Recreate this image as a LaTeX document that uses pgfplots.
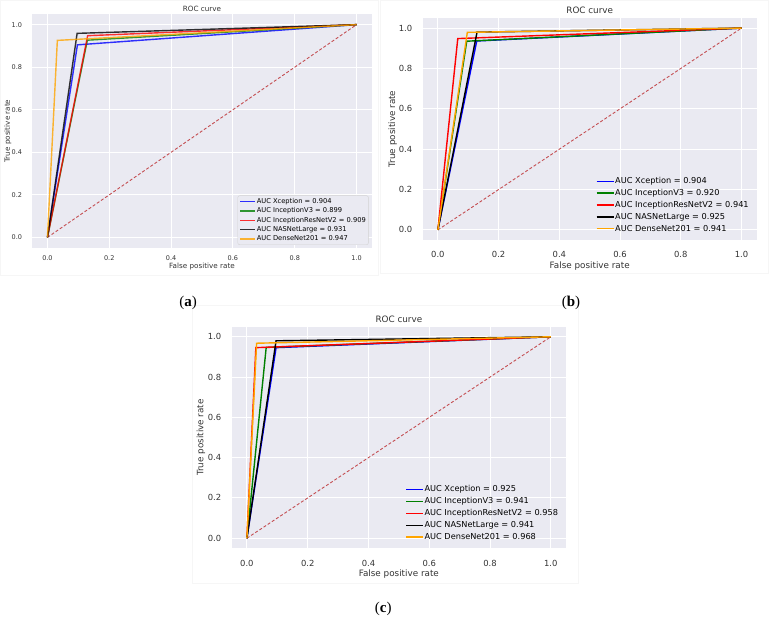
\documentclass[border=0pt]{standalone}
\usepackage{fontspec}
\setmainfont{DejaVu Sans}
\newfontfamily\capfont{Liberation Serif}
\usepackage{pgfplots}
\pgfplotsset{compat=1.18}
\definecolor{sbg}{HTML}{EAEAF2}
\definecolor{txt}{HTML}{333333}
\definecolor{diag}{HTML}{C44E52}
\definecolor{sgreen}{HTML}{008000}
\definecolor{sorange}{HTML}{FFA500}
\pgfplotsset{
 roc/.style={
  scale only axis,
  xmin=-0.05,xmax=1.05,ymin=-0.05,ymax=1.05,
  axis background/.style={fill=sbg},
  axis line style={draw=none},
  xtick={0,0.2,0.4,0.6,0.8,1},
  ytick={0,0.2,0.4,0.6,0.8,1},
  xticklabels={0.0,0.2,0.4,0.6,0.8,1.0},
  yticklabels={0.0,0.2,0.4,0.6,0.8,1.0},
  major tick length=0pt,
  grid=major,
  major grid style={white,line width=0.9pt},
  tick label style={text=txt},
  title style={text=txt,anchor=center,yshift=-6pt},
  legend cell align=left,
 },
 diagline/.style={diag,line width=0.9pt,dash pattern=on 3pt off 2pt},
 rl/.style={draw=#1,line width=1.4pt},
}
\begin{document}
\begin{tikzpicture}
\path[use as bounding box] (0,0) rectangle (769pt,625pt);
% faint panel frames
\draw[gray!7,line width=0.6pt] (0.5pt,350pt) rectangle (378.5pt,624.5pt);
\draw[gray!7,line width=0.6pt] (380.5pt,352pt) rectangle (768.5pt,624.5pt);
\draw[gray!7,line width=0.6pt] (192pt,42pt) rectangle (578pt,320pt);
% ---------------- (a)
\begin{axis}[roc,
  at={(32pt,377pt)},anchor=south west,
  width=340pt,height=234pt,
  tick label style={font=\fontsize{6.5}{7.5}\selectfont},
  xticklabel style={yshift=-4.5pt},
  yticklabel style={xshift=-6.5pt},
  title={ROC curve},
  title style={at={(axis description cs:0.5,1.0214)},font=\fontsize{7.2}{8.5}\selectfont},
  xlabel={False positive rate},
  xlabel style={at={(axis description cs:0.5,-0.0812)},anchor=center,font=\fontsize{7.2}{8.5}\selectfont,text=txt},
  ylabel={True positive rate},
  ylabel style={at={(axis description cs:-0.0706,0.5)},anchor=center,font=\fontsize{7.2}{8.5}\selectfont,text=txt},
  legend style={at={(0.99,0.013)},anchor=south east,draw=gray!35,fill=sbg,rounded corners=2pt,
    font=\fontsize{6.7}{7.5}\selectfont,row sep=1.6pt,inner sep=2pt,
    nodes={inner sep=0.6pt}},
  legend image code/.code={\draw[#1] (0pt,0pt) -- (15pt,0pt);},
]
\addplot[diagline,forget plot] coordinates {(0,0) (1,1)};
\addplot[rl=blue,draw opacity=0.8] coordinates {(0,0) (0.097,0.905) (1,1)};
\addplot[rl=sgreen,draw opacity=0.8] coordinates {(0,0) (0.129,0.927) (1,1)};
\addplot[rl=red,draw opacity=0.8] coordinates {(0,0) (0.130,0.948) (1,1)};
\addplot[rl=black,draw opacity=0.8] coordinates {(0,0) (0.096,0.959) (1,1)};
\addplot[rl=sorange,draw opacity=0.8] coordinates {(0,0) (0.032,0.926) (1,1)};
\legend{AUC Xception = 0.904,AUC InceptionV3 = 0.899,AUC InceptionResNetV2 = 0.909,AUC NASNetLarge = 0.931,AUC DenseNet201 = 0.947}
\end{axis}
% ---------------- (b)
\begin{axis}[roc,
  at={(422.7pt,385pt)},anchor=south west,
  width=334pt,height=222pt,
  tick label style={font=\fontsize{8.4}{9.5}\selectfont},
  xticklabel style={yshift=-8pt},
  yticklabel style={xshift=-7pt},
  title={ROC curve},
  title style={at={(axis description cs:0.5,1.0329)},font=\fontsize{8.8}{10}\selectfont},
  xlabel={False positive rate},
  xlabel style={at={(axis description cs:0.5,-0.1158)},anchor=center,font=\fontsize{8.8}{10}\selectfont,text=txt},
  ylabel={True positive rate},
  ylabel style={at={(axis description cs:-0.0898,0.5)},anchor=center,font=\fontsize{8.8}{10}\selectfont,text=txt},
  legend style={at={(0.985,0.02)},anchor=south east,draw=none,fill=none,
    font=\fontsize{8.2}{9.5}\selectfont,row sep=2.6pt,inner sep=2pt,
    nodes={inner sep=0.8pt}},
  legend image code/.code={\draw[#1] (0pt,0pt) -- (17pt,0pt);},
]
\addplot[diagline,forget plot] coordinates {(0,0) (1,1)};
\addplot[rl=blue] coordinates {(0,0) (0.128,0.936) (1,1)};
\addplot[rl=sgreen] coordinates {(0,0) (0.095,0.935) (1,1)};
\addplot[rl=red] coordinates {(0,0) (0.0655,0.948) (1,1)};
\addplot[rl=black] coordinates {(0,0) (0.129,0.980) (1,1)};
\addplot[rl=sorange] coordinates {(0,0) (0.097,0.979) (1,1)};
\legend{AUC Xception = 0.904,AUC InceptionV3 = 0.920,AUC InceptionResNetV2 = 0.941,AUC NASNetLarge = 0.925,AUC DenseNet201 = 0.941}
\end{axis}
% ---------------- (c)
\begin{axis}[roc,
  at={(231.7pt,76.7pt)},anchor=south west,
  width=334.3pt,height=221.6pt,
  tick label style={font=\fontsize{8.4}{9.5}\selectfont},
  xticklabel style={yshift=-8pt},
  yticklabel style={xshift=-7pt},
  title={ROC curve},
  title style={at={(axis description cs:0.5,1.0347)},font=\fontsize{8.8}{10}\selectfont},
  xlabel={False positive rate},
  xlabel style={at={(axis description cs:0.5,-0.116)},anchor=center,font=\fontsize{8.8}{10}\selectfont,text=txt},
  ylabel={True positive rate},
  ylabel style={at={(axis description cs:-0.0918,0.5)},anchor=center,font=\fontsize{8.8}{10}\selectfont,text=txt},
  legend style={at={(0.985,0.02)},anchor=south east,draw=none,fill=none,
    font=\fontsize{8.2}{9.5}\selectfont,row sep=2.6pt,inner sep=2pt,
    nodes={inner sep=0.8pt}},
  legend image code/.code={\draw[#1] (0pt,0pt) -- (17pt,0pt);},
]
\addplot[diagline,forget plot] coordinates {(0,0) (1,1)};
\addplot[rl=blue] coordinates {(0,0) (0.096,0.946) (1,1)};
\addplot[rl=sgreen] coordinates {(0,0) (0.0635,0.947) (1,1)};
\addplot[rl=red] coordinates {(0,0) (0.0295,0.946) (1,1)};
\addplot[rl=black] coordinates {(0,0) (0.096,0.980) (1,1)};
\addplot[rl=sorange] coordinates {(0,0) (0.032,0.968) (1,1)};
\legend{AUC Xception = 0.925,AUC InceptionV3 = 0.941,AUC InceptionResNetV2 = 0.958,AUC NASNetLarge = 0.941,AUC DenseNet201 = 0.968}
\end{axis}
% captions
\node[font=\capfont\fontsize{15}{17}\selectfont] at (188pt,322pt) {(\textbf{a})};
\node[font=\capfont\fontsize{15}{17}\selectfont] at (571pt,322pt) {(\textbf{b})};
\node[font=\capfont\fontsize{15}{17}\selectfont] at (383.3pt,16pt) {(\textbf{c})};
\end{tikzpicture}
\end{document}
